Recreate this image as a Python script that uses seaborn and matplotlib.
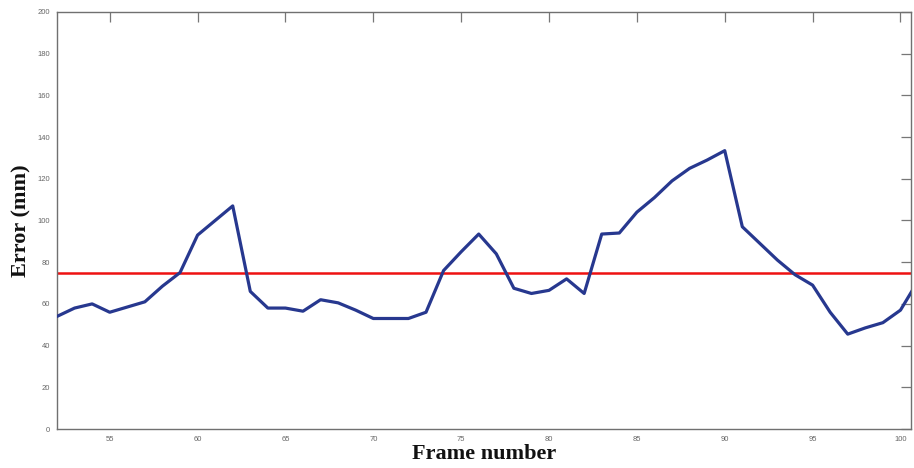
import matplotlib
matplotlib.use("Agg")
import matplotlib.pyplot as plt
import seaborn as sns
import pandas as pd

# ── Data ──
frames = list(range(52, 102))
error_mm = [54, 58, 60, 56, 58.5, 61, 68.5, 75, 93, 100,
            107, 66, 58, 58, 56.5, 62, 60.5, 57, 53, 53,
            53, 56, 76, 85, 93.5, 84, 67.5, 65, 66.5, 72,
            65, 93.5, 94, 104, 111, 119, 125, 129, 133.5, 97,
            89, 81, 74, 69, 56, 45.5, 48.5, 51, 57, 71]
mean_error = 75

x_ticks = [55, 60, 65, 70, 75, 80, 85, 90, 95, 100]
y_ticks = [0, 20, 40, 60, 80, 100, 120, 140, 160, 180, 200]

df = pd.DataFrame({"frame": frames, "error": error_mm})

sns.set_style("white")
plt.rcParams["font.family"] = ["Liberation Sans", "DejaVu Sans"]

fig = plt.figure(figsize=(9.14, 4.68), dpi=100)
ax = fig.add_axes([57 / 914, 39 / 468, 854 / 914, 417 / 468])

sns.lineplot(data=df, x="frame", y="error", ax=ax, color="#27388f",
             linewidth=2.3, zorder=3)
ax.axhline(mean_error, color="#ee1111", linewidth=1.8, zorder=2)

ax.set_xlim(52, 100.6)
ax.set_ylim(0, 200)
ax.set_xticks(x_ticks)
ax.set_yticks(y_ticks)

ax.tick_params(axis="both", direction="in", length=7, width=0.9,
               colors="#777777", labelsize=5.5, labelcolor="#666666",
               top=True, right=True, pad=5)
for sp in ax.spines.values():
    sp.set_color("#707070")
    sp.set_linewidth(1.0)

lab_font = dict(family="Liberation Serif", fontweight="bold", fontsize=16,
                color="#111111")
ax.set_xlabel("Frame number", labelpad=1, **lab_font)
ax.set_ylabel("Error (mm)", labelpad=4, **lab_font)

fig.savefig("out.png", dpi=100)
plt.close(fig)
